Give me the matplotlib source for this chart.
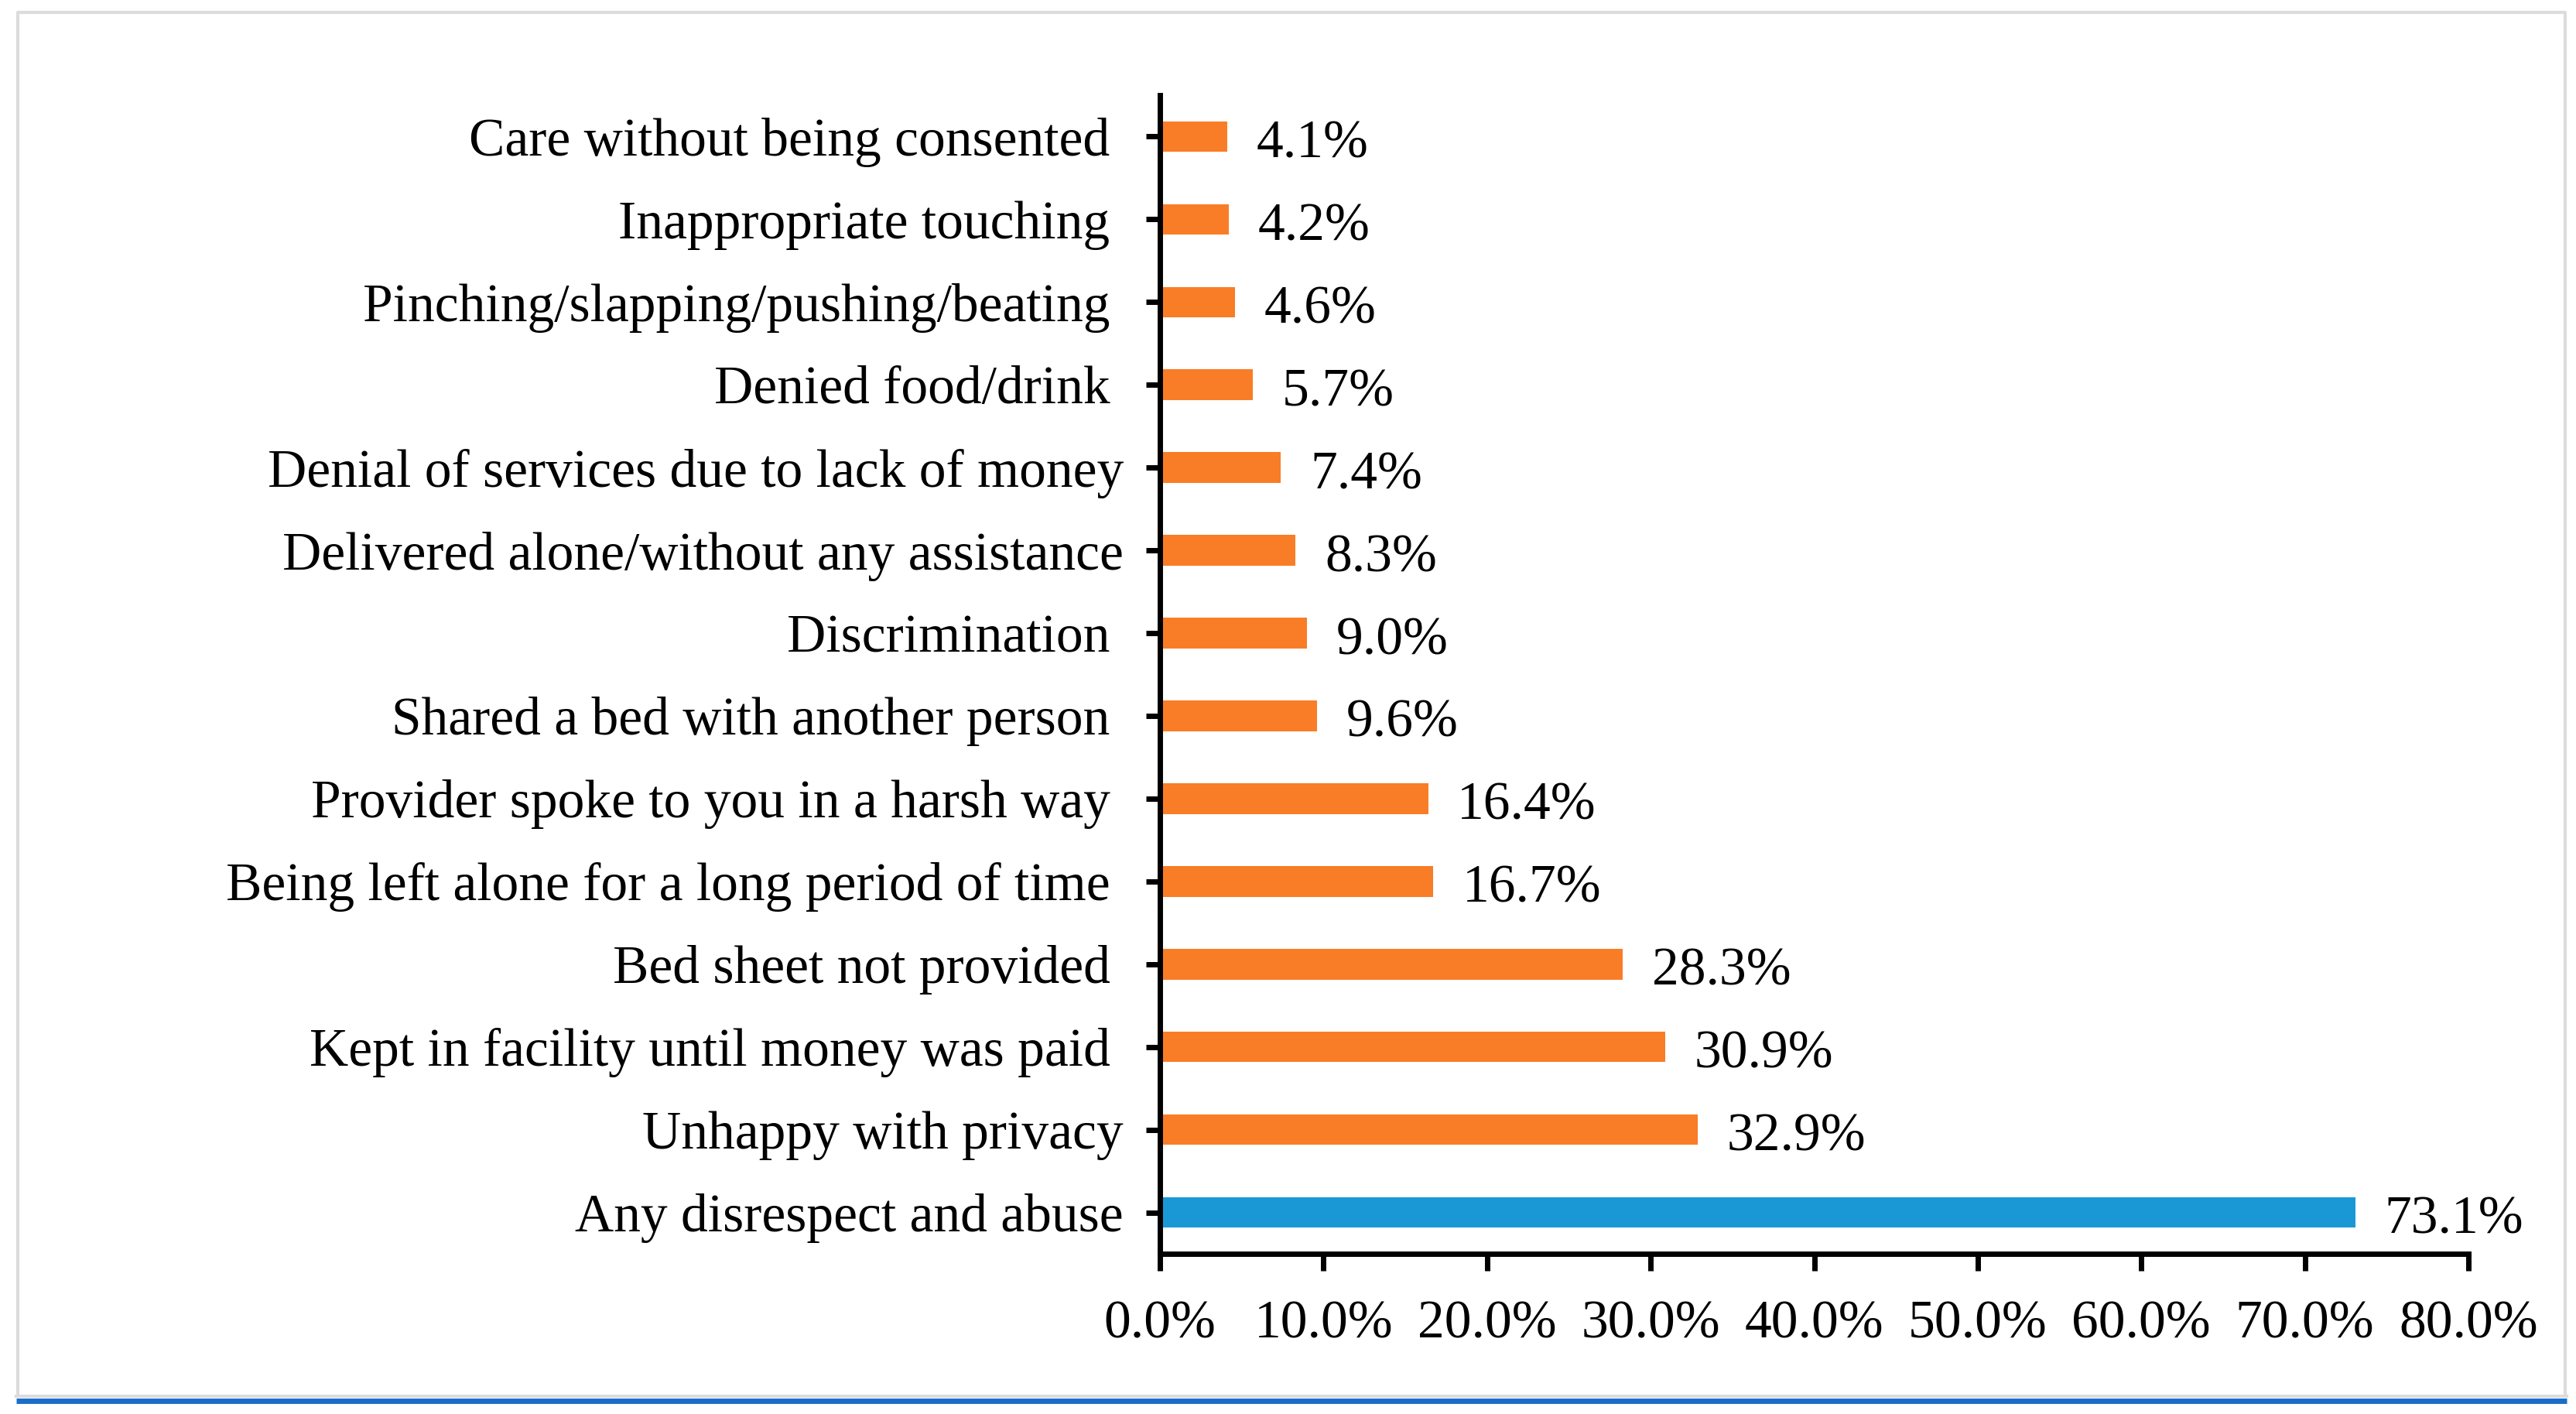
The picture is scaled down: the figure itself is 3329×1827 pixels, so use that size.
"""
Disrespect and abuse during childbirth, horizontal bar chart.
"""

import matplotlib
matplotlib.use("Agg")
import matplotlib.pyplot as plt
from matplotlib.lines import Line2D

# ── Data (top to bottom as shown) ─────────────────────────────────────────────
CATEGORIES = [
    "Care without being consented ",
    "Inappropriate touching ",
    "Pinching/slapping/pushing/beating ",
    "Denied food/drink ",
    "Denial of services due to lack of money",
    "Delivered alone/without any assistance",
    "Discrimination ",
    "Shared a bed with another person ",
    "Provider spoke to you in a harsh way ",
    "Being left alone for a long period of time ",
    "Bed sheet not provided ",
    "Kept in facility until money was paid ",
    "Unhappy with privacy",
    "Any disrespect and abuse",
]
VALUES = [4.1, 4.2, 4.6, 5.7, 7.4, 8.3, 9.0, 9.6, 16.4, 16.7, 28.3, 30.9, 32.9, 73.1]
X_TICKS = [0, 10, 20, 30, 40, 50, 60, 70, 80]

ORANGE = "#F97D26"
BLUE   = "#1A98D5"
FRAME  = "#DCDCDC"
STRIPE = "#1A6EC9"
FONT   = "Liberation Serif"
FS     = 50

plt.rcParams["font.family"] = FONT

W, H = 3330, 1827
fig = plt.figure(figsize=(W / 100, H / 100), dpi=100, facecolor="white")
ax = fig.add_axes([1499 / W, 1 - 1620 / H, (3190 - 1499) / W, (1620 - 123) / H])

# bottom row first so the list order matches the picture
n = len(CATEGORIES)
ypos = list(range(n))[::-1]
colors = [ORANGE] * (n - 1) + [BLUE]
ax.barh(ypos, VALUES, height=0.37, color=colors, zorder=2)

for y, v in zip(ypos, VALUES):
    ax.annotate(f"{v:.1f}%", xy=(v, y), xytext=(27, -2), textcoords="offset points",
                ha="left", va="center_baseline", fontsize=FS, family=FONT, color="black")

ax.set_xlim(0, 80)
ax.set_ylim(-0.5, n - 0.5)
ax.set_xticks(X_TICKS)
ax.set_xticklabels([f"{t:.1f}%" for t in X_TICKS])
ax.set_yticks(ypos)
ax.set_yticklabels(CATEGORIES)

for side in ("top", "right"):
    ax.spines[side].set_visible(False)
for side in ("left", "bottom"):
    ax.spines[side].set_linewidth(5)
    ax.spines[side].set_color("black")

ax.tick_params(axis="y", length=13, width=5, pad=21, labelsize=FS)
ax.tick_params(axis="x", length=16, width=5, pad=27, labelsize=FS)

# outer frame with the blue stripe under it
fig.add_artist(Line2D([23 / W, 23 / W, 3315 / W, 3315 / W],
                      [1 - 1804 / H, 1 - 16 / H, 1 - 16 / H, 1 - 1804 / H],
                      transform=fig.transFigure, color=FRAME, linewidth=3))
fig.add_artist(Line2D([21 / W, 3317 / W], [1 - 1804 / H, 1 - 1804 / H],
                      transform=fig.transFigure, color=FRAME, linewidth=3))
fig.add_artist(Line2D([21 / W, 3317 / W], [1 - 1809.5 / H, 1 - 1809.5 / H],
                      transform=fig.transFigure, color=STRIPE, linewidth=5,
                      solid_capstyle="butt"))

fig.savefig("out.png", dpi=100, facecolor="white")
